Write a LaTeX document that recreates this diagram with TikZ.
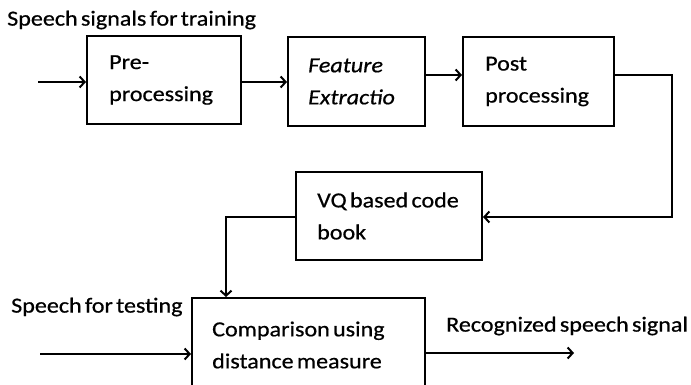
\documentclass[tikz,border=0pt]{standalone}
\usepackage{fontspec}
\setmainfont{Carlito}[FakeStretch=1.12,WordSpace=0.6,FakeBold=0.6]
\usetikzlibrary{arrows.meta}
\begin{document}
\begin{tikzpicture}[x=1pt,y=-1pt,
  font=\fontsize{21.5}{32}\selectfont,
  box/.style={draw,line width=2pt,rectangle,inner sep=0pt},
  txt/.style={anchor=west,align=left,inner sep=0pt},
  lab/.style={anchor=west,inner sep=0pt},
  conn/.style={line width=2pt},
  arr/.style={conn,-{Straight Barb[length=5pt,width=11pt,line width=2pt]}}]
\useasboundingbox (0,0) rectangle (691,385);
\clip (0,0) rectangle (691,385);
% boxes
\node[box,minimum width=154pt,minimum height=88pt] (b1) at (164,80) {};
\node[box,minimum width=137pt,minimum height=89pt] (b2) at (356.5,81.5) {};
\node[box,minimum width=151pt,minimum height=89pt] (b3) at (538.5,81.5) {};
\node[box,minimum width=186pt,minimum height=88pt] (vq) at (389,216) {};
\node[box,minimum width=233pt,minimum height=92pt] (cmp) at (308.5,344) {};
% box texts
\node[txt] (t1) at ([xshift=23pt]b1.west) {Pre-\\processing};
\node[txt] (t2) at ([xshift=21pt]b2.west) {\itshape Feature\\\itshape Extractio};
\node[txt] (t3) at ([xshift=23pt]b3.west) {Post\\processing};
\node[txt] (t4) at ([xshift=22pt]vq.west) {VQ based code\\book};
\node[txt] (t5) at ([xshift=21pt,yshift=-1pt]cmp.west) {Comparison using\\distance measure};
% labels
\node[lab] (l1) at (7,20) {Speech signals for training};
\node[lab] (l2) at (11,307) {Speech for testing};
\node[lab] (l3) at (446,326) {Recognized speech signal};
% coordinates
\coordinate (in1) at (38,82);
\coordinate (c1) at (672,217);
\coordinate (c2) at (226,217);
\coordinate (in2) at (40,354);
\coordinate (out) at (574,353);
% connectors
\draw[arr] (in1) -- (in1 -| b1.west);
\draw[arr] ([yshift=-2pt]b1.east) -- ([yshift=-2pt]b1.east -| b2.west);
\draw[arr] ([yshift=6.5pt]b2.east) -- ([yshift=6.5pt]b2.east -| b3.west);
\draw[arr] ([yshift=6.5pt]b3.east) -| (c1) -- (c1 -| vq.east);
\draw[arr] (vq.west |- c2) -- (c2) -- (c2 |- cmp.north);
\draw[arr] (in2) -- (in2 -| cmp.west);
\draw[arr] (out -| cmp.east) -- (out);
\end{tikzpicture}
\end{document}
